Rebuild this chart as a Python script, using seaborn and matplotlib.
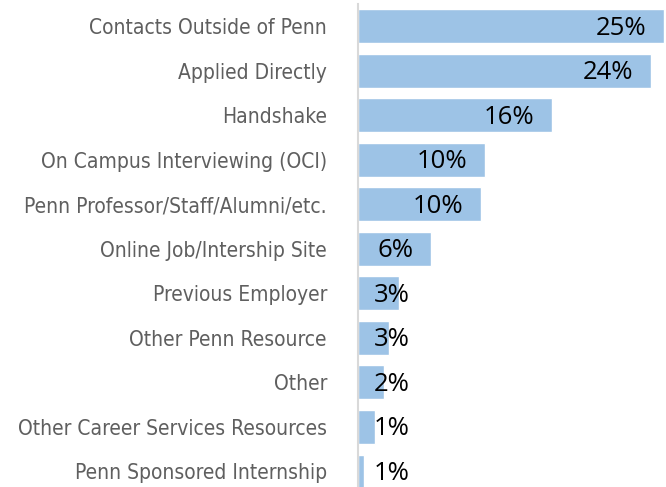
import matplotlib
matplotlib.use("Agg")
import matplotlib.pyplot as plt
import seaborn as sns
import pandas as pd
from matplotlib import font_manager

# data
sources = [
    "Contacts Outside of Penn",
    "Applied Directly",
    "Handshake",
    "On Campus Interviewing (OCI)",
    "Penn Professor/Staff/Alumni/etc.",
    "Online Job/Intership Site",
    "Previous Employer",
    "Other Penn Resource",
    "Other",
    "Other Career Services Resources",
    "Penn Sponsored Internship",
]
shares = [25.1, 24.0, 15.9, 10.4, 10.1, 6.0, 3.4, 2.6, 2.2, 1.4, 0.5]
share_labels = ["25%", "24%", "16%", "10%", "10%", "6%", "3%", "3%", "2%", "1%", "1%"]

df = pd.DataFrame({"source": sources, "share": shares, "label": share_labels})

sns.set_style("white")

# narrow font for the category labels if we have one
names = {f.name for f in font_manager.fontManager.ttflist}
cat_font = {"family": "DejaVu Sans", "stretch": "condensed"}
if "Liberation Sans Narrow" in names:
    cat_font = {"family": "Liberation Sans Narrow"}

fig = plt.figure(figsize=(6.66, 4.87), dpi=100)
ax = fig.add_axes([357.5 / 666, 0, 1 - 357.5 / 666, 1 - 4 / 487])

sns.barplot(data=df, x="share", y="source", color="#9DC3E6", saturation=1,
            width=0.76, orient="h", ax=ax)

ax.set_xlim(0, 25.25)
ax.set_ylim(10.35, -0.5)
ax.set_xlabel("")
ax.set_ylabel("")
ax.set_xticks([])
ax.tick_params(axis="y", length=0, pad=22)
for t in ax.get_yticklabels():
    t.set_fontsize(15)
    t.set_color("#5f5f5f")
    for k, v in cat_font.items():
        getattr(t, "set_font" + k)(v)

for s in ["top", "right", "bottom"]:
    ax.spines[s].set_visible(False)
ax.spines["left"].set_color("#D9D9D9")
ax.spines["left"].set_linewidth(1.5)

# value labels: inside end, but never left of the bar base
for i, (v, lab) in enumerate(zip(shares, share_labels)):
    ax.annotate(lab, xy=(max(v, 5.66), i), xytext=(-12.5, -1.5),
                textcoords="offset points", ha="right", va="center",
                fontsize=18.5, family="Open Sans", color="black")

fig.savefig("out.png", dpi=100)
